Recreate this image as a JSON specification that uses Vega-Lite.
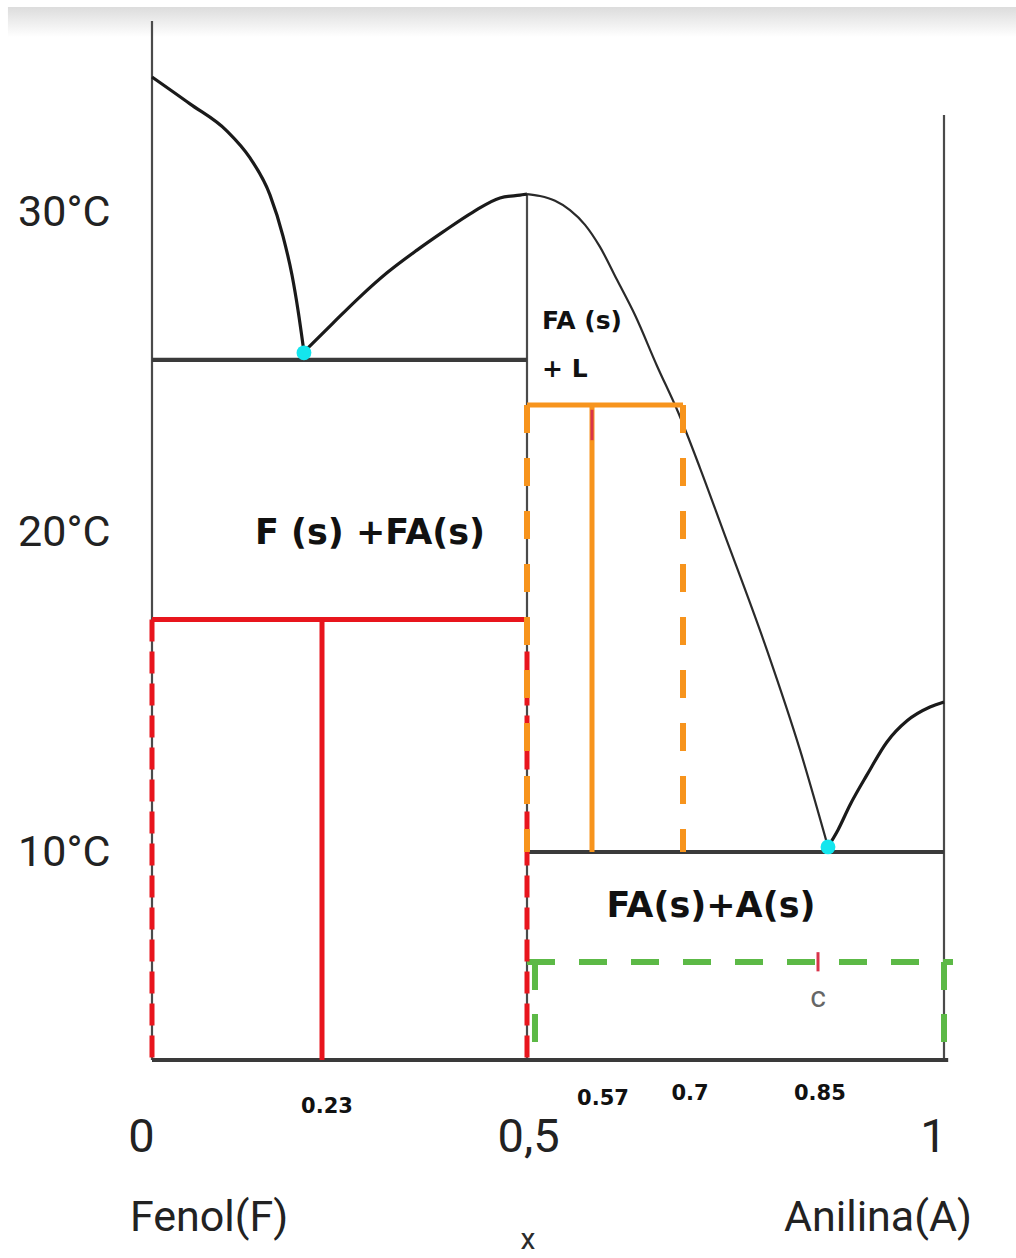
{
  "$schema": "https://vega.github.io/schema/vega-lite/v6.json",
  "width": 792,
  "height": 1039,
  "autosize": {"type": "none"},
  "padding": {"left": 152, "top": 21, "right": 72, "bottom": 198},
  "background": "#ffffff",
  "config": {"view": {"stroke": null}},
  "datasets": {
    "band": [{"x": -0.1949, "x2": 1.0857, "t": 36.44, "t2": 35.5}],
    "curve": [
      {"seg": 1, "x": 0, "t": 34.25}, {"seg": 1, "x": 0.0514, "t": 33.41}, {"seg": 1, "x": 0.1015, "t": 32.56},
      {"seg": 1, "x": 0.1326, "t": 31.72}, {"seg": 1, "x": 0.1597, "t": 30.56}, {"seg": 1, "x": 0.1772, "t": 29.28},
      {"seg": 1, "x": 0.1894, "t": 28.06}, {"seg": 1, "x": 0.1975, "t": 26.97}, {"seg": 1, "x": 0.2056, "t": 25.66},
      {"seg": 2, "x": 0.2056, "t": 25.66},
      {"seg": 2, "x": 0.2445, "t": 26.56}, {"seg": 2, "x": 0.28, "t": 27.38}, {"seg": 2, "x": 0.3156, "t": 28.13},
      {"seg": 2, "x": 0.3551, "t": 28.84}, {"seg": 2, "x": 0.3894, "t": 29.41}, {"seg": 2, "x": 0.4289, "t": 30.03},
      {"seg": 2, "x": 0.4644, "t": 30.47}, {"seg": 2, "x": 0.4908, "t": 30.56}, {"seg": 2, "x": 0.5, "t": 30.59},
      {"seg": 3, "x": 0.5, "t": 30.59},
      {"seg": 3, "x": 0.514, "t": 30.53}, {"seg": 3, "x": 0.5302, "t": 30.38}, {"seg": 3, "x": 0.5463, "t": 30.09},
      {"seg": 3, "x": 0.5625, "t": 29.63}, {"seg": 3, "x": 0.5814, "t": 28.94}, {"seg": 3, "x": 0.6057, "t": 27.91},
      {"seg": 3, "x": 0.6314, "t": 26.81}, {"seg": 3, "x": 0.6629, "t": 25.22}, {"seg": 3, "x": 0.6929, "t": 23.78},
      {"seg": 3, "x": 0.7189, "t": 22.03}, {"seg": 3, "x": 0.7444, "t": 20.09}, {"seg": 3, "x": 0.7933, "t": 16.34},
      {"seg": 3, "x": 0.83, "t": 13.22}, {"seg": 3, "x": 0.8619, "t": 10.19},
      {"seg": 4, "x": 0.8619, "t": 10.19},
      {"seg": 4, "x": 0.8738, "t": 10.72}, {"seg": 4, "x": 0.8881, "t": 11.5}, {"seg": 4, "x": 0.9083, "t": 12.44},
      {"seg": 4, "x": 0.9321, "t": 13.47}, {"seg": 4, "x": 0.956, "t": 14.13}, {"seg": 4, "x": 0.9833, "t": 14.56},
      {"seg": 4, "x": 1.0, "t": 14.72}
    ],
    "lines": [
      {"grp": "frame", "x": 0, "x2": 0, "t": 36.0, "t2": 3.53},
      {"grp": "frame", "x": 1, "x2": 1, "t": 33.06, "t2": 3.53},
      {"grp": "frame", "x": 0.5, "x2": 0.5, "t": 30.59, "t2": 3.53},
      {"grp": "solidus", "x": 0, "x2": 0.5, "t": 25.41, "t2": 25.41},
      {"grp": "solidus", "x": 0.5, "x2": 1, "t": 10.03, "t2": 10.03},
      {"grp": "solidus", "x": 0, "x2": 1.005, "t": 3.53, "t2": 3.53},
      {"grp": "green_edge", "x": 0.5, "x2": 1.0107, "t": 6.59, "t2": 6.59},
      {"grp": "green_edge", "x": 0.5086, "x2": 0.5086, "t": 6.59, "t2": 3.53},
      {"grp": "green_edge", "x": 1, "x2": 1, "t": 6.59, "t2": 3.53},
      {"grp": "red", "x": 0, "x2": 0.5, "t": 17.3, "t2": 17.3},
      {"grp": "red", "x": 0.23, "x2": 0.23, "t": 17.3, "t2": 3.53},
      {"grp": "red_edge", "x": 0, "x2": 0, "t": 17.3, "t2": 3.53},
      {"grp": "red_edge", "x": 0.5, "x2": 0.5, "t": 17.3, "t2": 3.53},
      {"grp": "orange", "x": 0.5, "x2": 0.7, "t": 24.0, "t2": 24.0},
      {"grp": "orange", "x": 0.57, "x2": 0.57, "t": 24.0, "t2": 10.03},
      {"grp": "orange_edge", "x": 0.5, "x2": 0.5, "t": 24.0, "t2": 10.03},
      {"grp": "orange_edge", "x": 0.7, "x2": 0.7, "t": 24.0, "t2": 10.03},
      {"grp": "mark", "x": 0.57, "x2": 0.57, "t": 23.85, "t2": 22.9},
      {"grp": "mark", "x": 0.85, "x2": 0.85, "t": 6.9, "t2": 6.3}
    ],
    "points": [
      {"x": 0.2056, "t": 25.63},
      {"x": 0.8619, "t": 10.19}
    ],
    "labels": [
      {"kind": "region", "x": 0.2932, "t": 20.0, "text": "F (s) +FA(s)"},
      {"kind": "region", "x": 0.7311, "t": 8.34, "text": "FA(s)+A(s)"},
      {"kind": "region_small", "x": 0.5162, "t": 26.63, "text": "FA (s)"},
      {"kind": "region_small", "x": 0.5162, "t": 25.12, "text": "+ L"},
      {"kind": "value", "x": 0.2366, "t": 2.05, "text": "0.23"},
      {"kind": "value", "x": 0.5857, "t": 2.31, "text": "0.57"},
      {"kind": "value", "x": 0.7078, "t": 2.47, "text": "0.7"},
      {"kind": "value", "x": 0.8522, "t": 2.47, "text": "0.85"},
      {"kind": "name_left", "x": -0.0298, "t": -1.41, "text": "Fenol(F)"},
      {"kind": "name_right", "x": 1.0333, "t": -1.41, "text": "Anilina(A)"},
      {"kind": "var", "x": 0.5011, "t": -2.09, "text": "x"},
      {"kind": "point", "x": 0.85, "t": 5.47, "text": "c"}
    ]
  },
  "encoding": {
    "x": {
      "field": "x", "type": "quantitative",
      "scale": {"type": "linear", "domain": [0, 0.23, 0.5, 0.57, 0.7, 0.85, 1], "range": [0, 170, 375, 440, 531, 666, 792], "zero": false, "nice": false},
      "axis": {
        "values": [0, 0.5, 1],
        "labelExpr": "datum.value == 0.5 ? '0,5' : format(datum.value, 'd')",
        "domain": false, "ticks": false, "tickSize": 0, "grid": false, "title": null,
        "labelFont": "Roboto",
        "labelFontSize": 47, "labelColor": "#222222",
        "labelPadding": 77, "labelBaseline": "middle", "labelFlush": false,
        "labelOffset": {"condition": {"test": "datum.value == 0.5", "value": 1}, "value": -11}
      }
    },
    "y": {
      "field": "t", "type": "quantitative",
      "scale": {"type": "linear", "domain": [3.53, 36.0], "zero": false, "nice": false},
      "axis": {
        "values": [10, 20, 30],
        "labelExpr": "datum.value + '°C'",
        "domain": false, "ticks": false, "tickSize": 0, "grid": false, "title": null,
        "labelFont": "Roboto",
        "labelFontSize": 43, "labelColor": "#222222", "labelPadding": 42
      }
    }
  },
  "layer": [
    {
      "data": {"name": "band"},
      "mark": {"type": "rect", "color": {"gradient": "linear", "x1": 0, "y1": 0, "x2": 0, "y2": 1, "stops": [{"offset": 0, "color": "#dcdcdc"}, {"offset": 1, "color": "#ffffff"}]}},
      "encoding": {"x2": {"field": "x2"}, "y2": {"field": "t2"}}
    },
    {
      "data": {"name": "lines"},
      "transform": [{"filter": "datum.grp == 'frame'"}],
      "mark": {"type": "rule", "color": "#4a4a4a", "strokeWidth": 2.2},
      "encoding": {"x2": {"field": "x2"}, "y2": {"field": "t2"}}
    },
    {
      "data": {"name": "lines"},
      "transform": [{"filter": "datum.grp == 'solidus'"}],
      "mark": {"type": "rule", "color": "#3a3a3a", "strokeWidth": 4.2},
      "encoding": {"x2": {"field": "x2"}, "y2": {"field": "t2"}}
    },
    {
      "data": {"name": "curve"},
      "transform": [{"filter": "datum.seg != 3"}],
      "mark": {"type": "line", "color": "#1a1a1a", "strokeWidth": 3.2, "interpolate": "monotone"},
      "encoding": {"detail": {"field": "seg"}}
    },
    {
      "data": {"name": "curve"},
      "transform": [{"filter": "datum.seg == 3"}],
      "mark": {"type": "line", "color": "#2a2a2a", "strokeWidth": 2.2, "interpolate": "monotone"},
      "encoding": {"detail": {"field": "seg"}}
    },
    {
      "data": {"name": "lines"},
      "transform": [{"filter": "datum.grp == 'green_edge'"}],
      "mark": {"type": "rule", "color": "#5cb946", "strokeWidth": 6, "strokeDash": [28, 24]},
      "encoding": {"x2": {"field": "x2"}, "y2": {"field": "t2"}}
    },
    {
      "data": {"name": "lines"},
      "transform": [{"filter": "datum.grp == 'red_edge'"}],
      "mark": {"type": "rule", "color": "#e8151d", "strokeWidth": 5, "strokeDash": [22, 10]},
      "encoding": {"x2": {"field": "x2"}, "y2": {"field": "t2"}}
    },
    {
      "data": {"name": "lines"},
      "transform": [{"filter": "datum.grp == 'red'"}],
      "mark": {"type": "rule", "color": "#e8151d", "strokeWidth": 5},
      "encoding": {"x2": {"field": "x2"}, "y2": {"field": "t2"}}
    },
    {
      "data": {"name": "lines"},
      "transform": [{"filter": "datum.grp == 'orange_edge'"}],
      "mark": {"type": "rule", "color": "#f7941d", "strokeWidth": 6, "strokeDash": [28, 25]},
      "encoding": {"x2": {"field": "x2"}, "y2": {"field": "t2"}}
    },
    {
      "data": {"name": "lines"},
      "transform": [{"filter": "datum.grp == 'orange'"}],
      "mark": {"type": "rule", "color": "#f7941d", "strokeWidth": 5},
      "encoding": {"x2": {"field": "x2"}, "y2": {"field": "t2"}}
    },
    {
      "data": {"name": "lines"},
      "transform": [{"filter": "datum.grp == 'mark'"}],
      "mark": {"type": "rule", "color": "#d8344a", "strokeWidth": 3},
      "encoding": {"x2": {"field": "x2"}, "y2": {"field": "t2"}}
    },
    {
      "data": {"name": "points"},
      "mark": {"type": "circle", "color": "#14e6ee", "opacity": 1, "size": 220},
      "encoding": {}
    },
    {
      "data": {"name": "labels"},
      "transform": [{"filter": "datum.kind == 'region'"}],
      "mark": {"type": "text", "font": "DejaVu Sans", "fontWeight": "bold", "fontSize": 35, "color": "#111111", "align": "center", "baseline": "middle"},
      "encoding": {"text": {"field": "text"}}
    },
    {
      "data": {"name": "labels"},
      "transform": [{"filter": "datum.kind == 'region_small'"}],
      "mark": {"type": "text", "font": "DejaVu Sans", "fontWeight": "bold", "fontSize": 25, "color": "#111111", "align": "left", "baseline": "middle"},
      "encoding": {"text": {"field": "text"}}
    },
    {
      "data": {"name": "labels"},
      "transform": [{"filter": "datum.kind == 'value'"}],
      "mark": {"type": "text", "font": "DejaVu Sans", "fontWeight": "bold", "fontSize": 21, "color": "#111111", "align": "center", "baseline": "middle"},
      "encoding": {"text": {"field": "text"}}
    },
    {
      "data": {"name": "labels"},
      "transform": [{"filter": "datum.kind == 'name_left'"}],
      "mark": {"type": "text", "font": "Roboto", "fontSize": 43, "color": "#222222", "align": "left", "baseline": "middle"},
      "encoding": {"text": {"field": "text"}}
    },
    {
      "data": {"name": "labels"},
      "transform": [{"filter": "datum.kind == 'name_right'"}],
      "mark": {"type": "text", "font": "Roboto", "fontSize": 43, "color": "#222222", "align": "right", "baseline": "middle"},
      "encoding": {"text": {"field": "text"}}
    },
    {
      "data": {"name": "labels"},
      "transform": [{"filter": "datum.kind == 'var'"}],
      "mark": {"type": "text", "font": "Roboto", "fontSize": 30, "color": "#2b2b2b", "align": "center", "baseline": "middle"},
      "encoding": {"text": {"field": "text"}}
    },
    {
      "data": {"name": "labels"},
      "transform": [{"filter": "datum.kind == 'point'"}],
      "mark": {"type": "text", "font": "Roboto", "fontSize": 30, "color": "#666666", "align": "center", "baseline": "middle"},
      "encoding": {"text": {"field": "text"}}
    }
  ]
}
